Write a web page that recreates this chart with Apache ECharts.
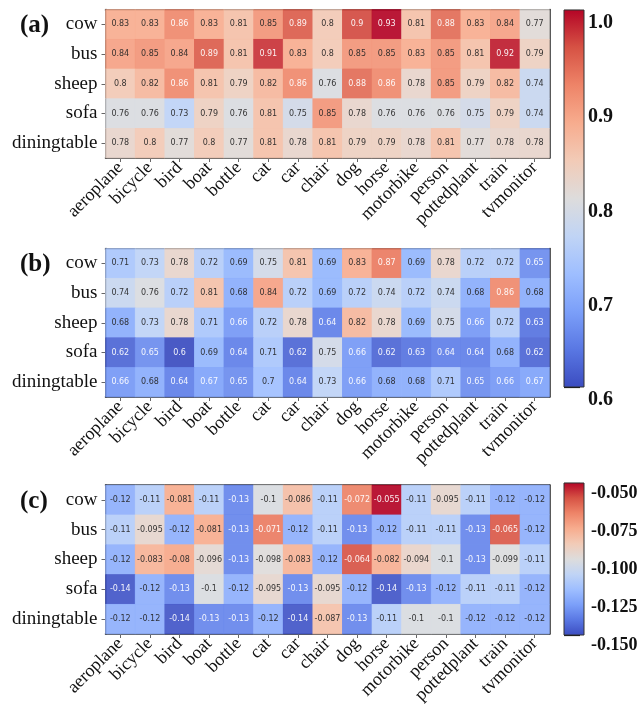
<!DOCTYPE html>
<html><head><meta charset="utf-8">
<script src="https://cdn.jsdelivr.net/npm/echarts@6/dist/echarts.min.js"></script>
<style>html,body{margin:0;padding:0;background:#fff}#c{width:642px;height:723px}</style>
</head><body><div id="c"></div>
<script>
const categories = ['aeroplane','bicycle','bird','boat','bottle','cat','car','chair','dog','horse','motorbike','person','pottedplant','train','tvmonitor'];
const rowNames = ['cow','bus','sheep','sofa','diningtable'];

// Panel (a)
const a_cow   = [0.83,0.83,0.86,0.83,0.81,0.85,0.89,0.8,0.9,0.93,0.81,0.88,0.83,0.84,0.77];
const a_bus   = [0.84,0.85,0.84,0.89,0.81,0.91,0.83,0.8,0.85,0.85,0.83,0.85,0.81,0.92,0.79];
const a_sheep = [0.8,0.82,0.86,0.81,0.79,0.82,0.86,0.76,0.88,0.86,0.78,0.85,0.79,0.82,0.74];
const a_sofa  = [0.76,0.76,0.73,0.79,0.76,0.81,0.75,0.85,0.78,0.76,0.76,0.76,0.75,0.79,0.74];
const a_dining= [0.78,0.8,0.77,0.8,0.77,0.81,0.78,0.81,0.79,0.79,0.78,0.81,0.77,0.78,0.78];
// Panel (b)
const b_cow   = [0.71,0.73,0.78,0.72,0.69,0.75,0.81,0.69,0.83,0.87,0.69,0.78,0.72,0.72,0.65];
const b_bus   = [0.74,0.76,0.72,0.81,0.68,0.84,0.72,0.69,0.72,0.74,0.72,0.74,0.68,0.86,0.68];
const b_sheep = [0.68,0.73,0.78,0.71,0.66,0.72,0.78,0.64,0.82,0.78,0.69,0.75,0.66,0.72,0.63];
const b_sofa  = [0.62,0.65,0.6,0.69,0.64,0.71,0.62,0.75,0.66,0.62,0.63,0.64,0.64,0.68,0.62];
const b_dining= [0.66,0.68,0.64,0.67,0.65,0.7,0.64,0.73,0.66,0.68,0.68,0.71,0.65,0.66,0.67];
// Panel (c)
const c_cow   = [-0.12,-0.11,-0.081,-0.11,-0.13,-0.1,-0.086,-0.11,-0.072,-0.055,-0.11,-0.095,-0.11,-0.12,-0.12];
const c_bus   = [-0.11,-0.095,-0.12,-0.081,-0.13,-0.071,-0.12,-0.11,-0.13,-0.12,-0.11,-0.11,-0.13,-0.065,-0.12];
const c_sheep = [-0.12,-0.083,-0.08,-0.096,-0.13,-0.098,-0.083,-0.12,-0.064,-0.082,-0.094,-0.1,-0.13,-0.099,-0.11];
const c_sofa  = [-0.14,-0.12,-0.13,-0.1,-0.12,-0.095,-0.13,-0.095,-0.12,-0.14,-0.13,-0.12,-0.11,-0.11,-0.12];
const c_dining= [-0.12,-0.12,-0.14,-0.13,-0.13,-0.12,-0.14,-0.087,-0.13,-0.11,-0.1,-0.1,-0.12,-0.12,-0.12];

const cbTicksAB = [0.6,0.7,0.8,0.9,1.0];
const cbTicksC  = [-0.15,-0.125,-0.1,-0.075,-0.05];

// colour range actually used for the cells (as seen in the reference)
const cellRangeAB = [0.6, 0.93];
const cellRangeC  = [-0.142, -0.055];

const coolwarm = ['#3b4cc0','#5977e3','#7b9ff9','#9ebeff','#c0d4f5','#dddcdc','#f2cbb7','#f7ac8e','#ee8468','#d65244','#b40426'];
const SERIF = '"Liberation Serif","Times New Roman",serif';
const SANS = '"DejaVu Sans",sans-serif';

function buildData(rowsArr, whiteBelow, whiteAbove) {
  const out = [];
  rowsArr.forEach((row, r) => row.forEach((v, c) => {
    out.push({ value: [c, r, v], label: { color: (v < whiteBelow || v > whiteAbove) ? '#ffffff' : '#262626' } });
  }));
  return out;
}
const dataA = buildData([a_cow,a_bus,a_sheep,a_sofa,a_dining], 0.675, 0.855);
const dataB = buildData([b_cow,b_bus,b_sheep,b_sofa,b_dining], 0.675, 0.855);
const dataC = buildData([c_cow,c_bus,c_sheep,c_sofa,c_dining], -0.125, -0.076);

const gridLeft = 105.5, gridW = 444;
const grids = [
  {left: gridLeft, top: 9.5, width: gridW, height: 148.5},
  {left: gridLeft, top: 248.5, width: gridW, height: 148.5},
  {left: gridLeft, top: 485, width: gridW, height: 149},
  {left: 564, top: 10, width: 20, height: 377},
  {left: 564, top: 483, width: 20, height: 152}
];

const borderLine = {show: true, lineStyle: {color: '#222', width: 1.5}};
const xAxes = [], yAxes = [];
for (let g = 0; g < 3; g++) {
  xAxes.push({type: 'category', gridIndex: g, data: categories, position: 'bottom',
    axisLine: borderLine,
    axisTick: {show: true, alignWithLabel: true, length: 4, lineStyle: {color: '#666'}},
    axisLabel: {interval: 0, rotate: 45, margin: 7, fontFamily: SERIF, fontSize: 18, color: '#111'},
    splitLine: {show: false}});
  xAxes.push({type: 'category', gridIndex: g, data: categories, position: 'top',
    axisLine: borderLine, axisTick: {show: false}, axisLabel: {show: false}});
  yAxes.push({type: 'category', gridIndex: g, data: rowNames, inverse: true, position: 'left',
    axisLine: borderLine,
    axisTick: {show: true, alignWithLabel: true, length: 4, lineStyle: {color: '#666'}},
    axisLabel: {interval: 0, margin: 8, fontFamily: SERIF, fontSize: 19, color: '#111'}});
  yAxes.push({type: 'category', gridIndex: g, data: rowNames, inverse: true, position: 'right',
    axisLine: borderLine, axisTick: {show: false}, axisLabel: {show: false}});
}
function cbAxes(gi, ticks, digits, margin, fs, pad) {
  xAxes.push({type: 'value', gridIndex: gi, min: 0, max: 1, show: false});
  yAxes.push({type: 'value', gridIndex: gi, position: 'right',
    min: ticks[0], max: ticks[ticks.length - 1], interval: ticks[1] - ticks[0],
    axisLine: {show: false}, splitLine: {show: false},
    axisTick: {show: true, length: 16, lineStyle: {color: '#111', width: 1.2}},
    axisLabel: {formatter: v => v.toFixed(digits), margin: margin, verticalAlign: 'top', padding: [pad,0,0,0],
      fontFamily: SERIF, fontWeight: 'bold', fontSize: fs, color: '#111'}});
}
cbAxes(3, cbTicksAB, 1, 4, 20, 3);
cbAxes(4, cbTicksC, 3, 7, 18, 1);

function hm(i, data) {
  return {type: 'heatmap', xAxisIndex: 2*i, yAxisIndex: 2*i, data: data,
    label: {show: true, fontFamily: SANS, fontSize: 8, formatter: p => String(p.value[2])},
    emphasis: {disabled: true}, itemStyle: {borderWidth: 0, opacity: 0.92}};
}
function colorbar(gi, lo, hi) {
  const stops = coolwarm.slice().reverse().map((c, k) => ({offset: k / (coolwarm.length - 1), color: c}));
  return {type: 'custom', xAxisIndex: 6 + (gi - 3), yAxisIndex: 6 + (gi - 3), data: [[0, lo, hi]], silent: true, z: 1,
    renderItem: (params, api) => {
      const cs = params.coordSys;
      const t = api.coord([0, api.value(2)]);
      const b = api.coord([0, api.value(1)]);
      return {type: 'rect', shape: {x: cs.x, y: t[1], width: cs.width, height: b[1] - t[1]},
        style: {fill: new echarts.graphic.LinearGradient(0, 0, 0, 1, stops), stroke: '#333', lineWidth: 1}};
    }};
}

const chart = echarts.init(document.getElementById('c'), null, {renderer: 'canvas'});
chart.setOption({
  animation: false,
  backgroundColor: '#fff',
  title: [
    {text: '(a)', left: 15, top: 8, textStyle: {fontFamily: SERIF, fontWeight: 'bold', fontSize: 25, color: '#111'}},
    {text: '(b)', left: 15, top: 247, textStyle: {fontFamily: SERIF, fontWeight: 'bold', fontSize: 25, color: '#111'}},
    {text: '(c)', left: 15, top: 484, textStyle: {fontFamily: SERIF, fontWeight: 'bold', fontSize: 25, color: '#111'}}
  ],
  grid: grids,
  xAxis: xAxes,
  yAxis: yAxes,
  visualMap: [
    {show: false, type: 'continuous', min: cellRangeAB[0], max: cellRangeAB[1], seriesIndex: [0, 1], dimension: 2, inRange: {color: coolwarm}},
    {show: false, type: 'continuous', min: cellRangeC[0], max: cellRangeC[1], seriesIndex: [2], dimension: 2, inRange: {color: coolwarm}}
  ],
  series: [hm(0, dataA), hm(1, dataB), hm(2, dataC),
    colorbar(3, cbTicksAB[0], cbTicksAB[4]), colorbar(4, cbTicksC[0], cbTicksC[4])]
});
</script></body></html>
